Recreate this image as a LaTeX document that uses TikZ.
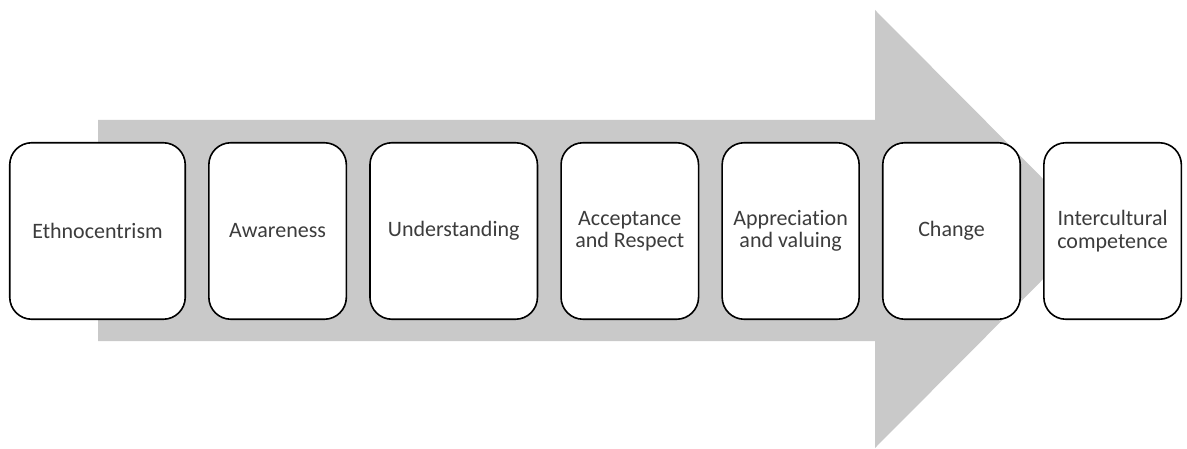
\documentclass[tikz,border=0pt]{standalone}
\usepackage{fontspec}
\setmainfont{Carlito}[Ligatures=NoCommon]
\usetikzlibrary{positioning}
\definecolor{arrowgrey}{RGB}{201,201,201}
\definecolor{textgrey}{RGB}{60,60,60}
\tikzset{stage/.style={draw, line width=1.6pt, rounded corners=22pt, fill=white, minimum height=176.5pt, minimum width=137.5pt, inner sep=0pt, align=center, text=textgrey, font=\fontsize{22}{22.5}\selectfont}}

\begin{document}
\begin{tikzpicture}[x=1pt,y=1pt]
			\useasboundingbox (0,0) rectangle (1187,448);
			
			% big grey arrow behind the stages
			\fill[arrowgrey] (98,328) -- (875,328) -- (875,438) -- (1093,219) -- (875,0) -- (875,107) -- (98,107) -- cycle;
			
			% stages
			\node[stage, minimum width=175.5pt] (ethno) at (97.5,217) {Ethnocentrism};
			\node[stage, right=22pt of ethno] (aware) {Awareness};
			\node[stage, minimum width=167.5pt, right=22pt of aware] (underst) {Understanding};
			\node[stage, right=22pt of underst] (accept) {Acceptance\\and Respect};
			\node[stage, minimum width=137pt, right=22pt of accept] (apprec) {Appreciation\\and valuing};
			\node[stage, right=22pt of apprec] (change) {Change};
			\node[stage, right=22pt of change] (intercult) {Intercultural\\competence};
		\end{tikzpicture}
\end{document}
